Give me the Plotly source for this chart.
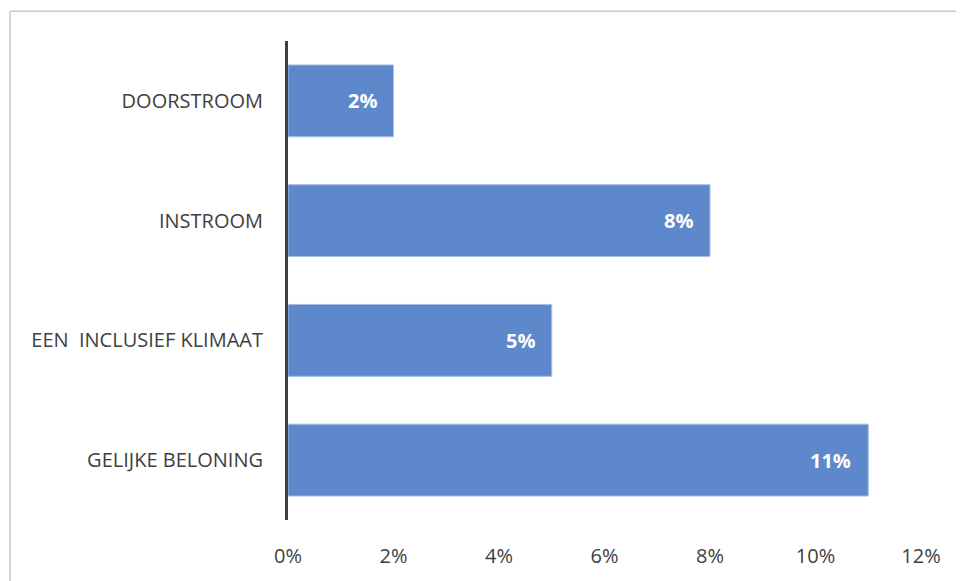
import plotly.graph_objects as go

categories = ["DOORSTROOM", "INSTROOM", "EEN  INCLUSIEF KLIMAAT", "GELIJKE BELONING"]
values = [2, 8, 5, 11]
tick_vals = [0, 2, 4, 6, 8, 10, 12]
tick_text = ["0%", "2%", "4%", "6%", "8%", "10%", "12%"]

OFF = 8  # page body margin
W, H = 964 - OFF, 581 - OFF
L, R, T, B = 288 - OFF, 43, 41 - OFF, 56
pw, ph = W - L - R, H - T - B

font_fam = "Open Sans, Noto Sans, sans-serif"
txt_col = "#404040"

fig = go.Figure()
fig.add_trace(go.Bar(
    y=categories, x=values, orientation="h",
    marker=dict(color="#5E88CC", line=dict(color="#A8BFE4", width=1)),
    width=0.6, hoverinfo="skip",
))

annotations = []
for c, v in zip(categories, values):
    annotations.append(dict(
        x=v, y=c, xref="x", yref="y", text="<b>%d%%</b>" % v,
        showarrow=False, xanchor="right", yanchor="middle", xshift=-15,
        font=dict(family=font_fam, size=20, color="white"),
    ))

def px_x(p):
    return (p - OFF - L) / pw

def px_y(p):
    return (H - B - (p - OFF)) / ph

border = dict(color="#C8C8C8", width=1.5)
fig.update_layout(
    width=W, height=H, autosize=False,
    margin=dict(l=L, r=R, t=T, b=B),
    paper_bgcolor="white", plot_bgcolor="white",
    showlegend=False,
    annotations=annotations,
    shapes=[
        dict(type="line", xref="paper", yref="paper",
             x0=px_x(10), x1=px_x(1100), y0=px_y(11), y1=px_y(11),
             line=border, layer="below"),
        dict(type="line", xref="paper", yref="paper",
             x0=px_x(10), x1=px_x(10), y0=px_y(11), y1=px_y(700),
             line=border, layer="below"),
    ],
    xaxis=dict(range=[0, 12], tickvals=tick_vals, ticktext=tick_text,
               showgrid=False, zeroline=False, showline=False, ticks="",
               ticklabelstandoff=22,
               tickfont=dict(family=font_fam, size=20, color=txt_col)),
    yaxis=dict(autorange="reversed", showgrid=False, zeroline=False,
               showline=True, linecolor="#404040", linewidth=3, ticks="",
               ticklabelstandoff=18,
               tickfont=dict(family=font_fam, size=20, color=txt_col)),
)
fig.write_html("out.html")
